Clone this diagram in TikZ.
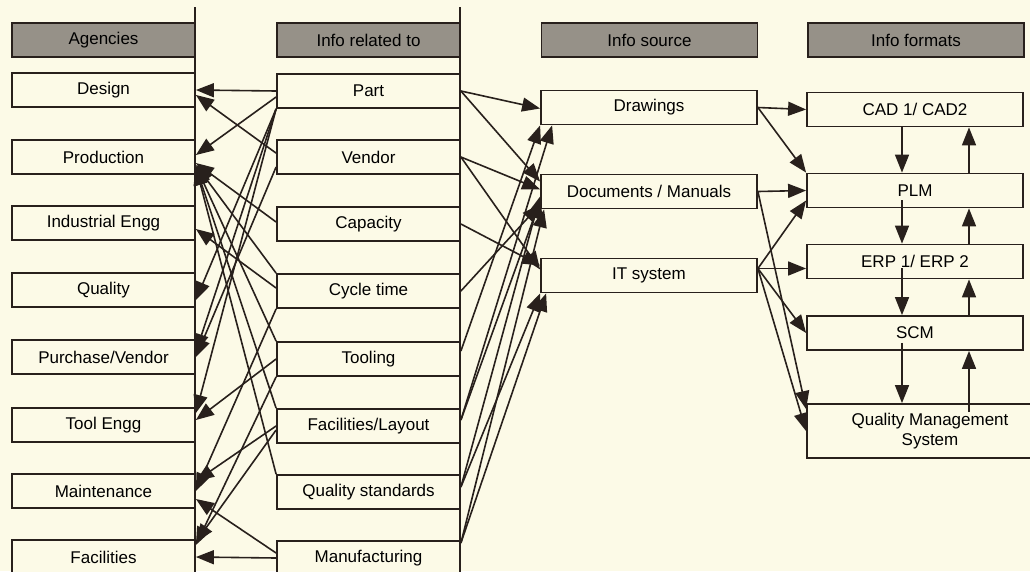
\documentclass[tikz,border=0pt]{standalone}
\usepackage{fontspec}
\setmainfont{Liberation Sans}
\usetikzlibrary{arrows.meta,calc}
\definecolor{paper}{RGB}{252,250,231}
\definecolor{ink}{RGB}{40,32,28}
\definecolor{headfill}{RGB}{150,145,136}
\tikzset{
  box/.style={draw=ink, line width=1.8pt, fill=paper, inner sep=0pt,
    minimum height=34pt, font=\fontsize{17}{20}\selectfont},
  colA/.style={box, minimum width=183pt},
  colC/.style={box, minimum width=216pt},
  head/.style={fill=headfill},
  arr/.style={draw=ink, line width=1.6pt, -{Triangle[length=18pt,width=14pt]}},
  rule/.style={draw=ink, line width=1.8pt},
}
\begin{document}
\begin{tikzpicture}[x=1pt,y=-1pt]
\fill[paper] (0,0) rectangle (1030,571);
\useasboundingbox (0,0) rectangle (1030,571);
\draw[rule] (195,7) -- (195,575);
\draw[rule] (460,7) -- (460,575);
% agencies
\node[colA,head] (agencies) at (103.5,40) {Agencies};
\node[colA] (design)      at (103.5,90)  {Design};
\node[colA] (production)  at (103.5,157) {Production};
\node[colA] (indeng)      at (103.5,223) {Industrial Engg};
\node[colA] (quality)     at (103.5,290) {Quality};
\node[colA] (purchase)    at (103.5,357) {Purchase/Vendor};
\node[colA] (tooleng)     at (103.5,425) {Tool Engg};
\node[colA] (maintenance) at (103.5,491) {Maintenance};
\node[colA] (facilities)  at (103.5,557) {Facilities};
% info related to
\node[colA,head] (inforel) at (368.5,40) {Info related to};
\node[colA] (part)          at (368.5,91)  {Part};
\node[colA] (vendor)        at (368.5,157) {Vendor};
\node[colA] (capacity)      at (368.5,224) {Capacity};
\node[colA] (cycletime)     at (368.5,291) {Cycle time};
\node[colA] (tooling)       at (368.5,359) {Tooling};
\node[colA] (faclayout)     at (368.5,426) {Facilities/Layout};
\node[colA] (qualstd)       at (368.5,492) {Quality standards};
\node[colA] (manufacturing) at (368.5,558) {Manufacturing};
% info source
\node[colC,head] (infosrc) at (649.5,40) {Info source};
\node[colC] (drawings)  at (649,107.5) {Drawings};
\node[colC] (documents) at (649,191.5) {Documents / Manuals};
\node[colC] (itsystem)  at (649,275.5) {IT system};
% info formats
\node[colC,head] (infofmt) at (916,40) {Info formats};
\node[colC] (cad) at (915,109.5) {CAD 1/ CAD2};
\node[colC] (plm) at (915,190.5) {PLM};
\node[colC] (erp) at (915,261.5) {ERP 1/ ERP 2};
\node[colC] (scm) at (915,333)   {SCM};
\node[box, minimum width=246pt, minimum height=54pt, align=center]
  (qms) at (930,431) {Quality Management\\System};
% info related to -> agencies
\draw[arr] (part.west) -- (design.east);
\draw[arr] ([yshift=-14pt]vendor.north west) -- ([yshift=-5pt]design.east);
\draw[arr] ([yshift=-6pt]part.west) -- ([yshift=2pt]production.east);
\draw[arr] ([yshift=2pt]capacity.west) -- ([yshift=-6pt]production.east);
\draw[arr] (cycletime.north west) -- ([yshift=-8pt]production.east);
\draw[arr] (tooling.north west) -- ([yshift=-9pt]production.east);
\draw[arr] (faclayout.north west) -- ([yshift=-10pt]production.east);
\draw[arr] (qualstd.north west) -- ([yshift=-10pt]production.east);
\draw[arr] ([yshift=3pt]cycletime.west) -- ([yshift=-6pt]indeng.east);
\draw[arr] (part.south west) -- ([yshift=-10pt]quality.east);
\draw[arr] (part.south west) -- ([yshift=5pt]purchase.east);
\draw[arr] ([yshift=-10pt]vendor.west) -- (purchase.east);
\draw[arr] (part.south west) -- ([yshift=12pt]tooleng.east);
\draw[arr] (tooling.west) -- ([yshift=5pt]tooleng.east);
\draw[arr] (cycletime.south west) -- (maintenance.east);
\draw[arr] (faclayout.west) -- ([yshift=10pt]maintenance.east);
\draw[arr] ([yshift=5pt]manufacturing.west) -- ([yshift=-8pt]maintenance.east);
\draw[arr] ([yshift=-4pt]faclayout.west) -- ([yshift=15pt]facilities.east);
\draw[arr] (tooling.south west) -- ([yshift=12pt]facilities.east);
\draw[arr] (manufacturing.west) -- (facilities.east);
% info related to -> info source
\draw[arr] (part.east) -- ([yshift=-1pt]drawings.west);
\draw[arr] (part.east) -- ([yshift=10pt]documents.west);
\draw[arr] (vendor.east) -- ([yshift=2pt]documents.west);
\draw[arr] (vendor.east) -- ([yshift=6pt]itsystem.west);
\draw[arr] (capacity.east) -- ([yshift=10pt]itsystem.west);
\draw[arr] (cycletime.east) -- ([yshift=-13pt]documents.west);
\draw[arr] ([yshift=8pt]tooling.east) -- (drawings.south west);
\draw[arr] ([yshift=6pt]faclayout.east) -- ([xshift=12pt]drawings.south west);
\draw[arr] ([yshift=6pt]faclayout.east) -- ([yshift=-9pt]documents.west);
\draw[arr] ([yshift=5pt]qualstd.east) -- ([yshift=-5pt]documents.west);
\draw[arr] ([yshift=5pt]qualstd.east) -- (itsystem.south west);
\draw[arr] ([yshift=15pt]manufacturing.east) -- ([xshift=6pt]itsystem.south west);
\draw[arr] ([yshift=15pt]manufacturing.east) -- ([xshift=4pt]documents.south west);
% info source -> info formats
\draw[arr] (drawings.east) -- (cad.west);
\draw[arr] (drawings.east) -- (plm.north west);
\draw[arr] (documents.east) -- (plm.west);
\draw[arr] (documents.east) -- ([yshift=-6pt]qms.north west);
\draw[arr] ([yshift=7pt]itsystem.east) -- ([yshift=-7pt]erp.west);
\draw[arr] ([yshift=7pt]itsystem.east) -- ([yshift=-10pt]plm.west);
\draw[arr] ([yshift=7pt]itsystem.east) -- (scm.west);
\draw[arr] ([yshift=7pt]itsystem.east) -- ([yshift=-28pt]qms.north west);
% between the formats
\coordinate (dn) at (902,0);
\coordinate (up) at (969,0);
\draw[arr] (dn |- cad.south) -- (dn |- plm.north);
\draw[arr] (up |- plm.north) -- (up |- cad.south);
\draw[arr] ($(dn |- plm.south)+(0,-8)$) -- (dn |- erp.north);
\draw[arr] (up |- erp.north) -- (up |- plm.south);
\draw[arr] ($(dn |- erp.south)+(0,-11)$) -- (dn |- scm.north);
\draw[arr] (up |- scm.north) -- (up |- erp.south);
\draw[arr] ($(dn |- scm.south)+(0,-8)$) -- (dn |- qms.north);
\draw[arr] ($(up |- qms.north)+(0,9)$) -- (up |- scm.south);
\end{tikzpicture}
\end{document}
